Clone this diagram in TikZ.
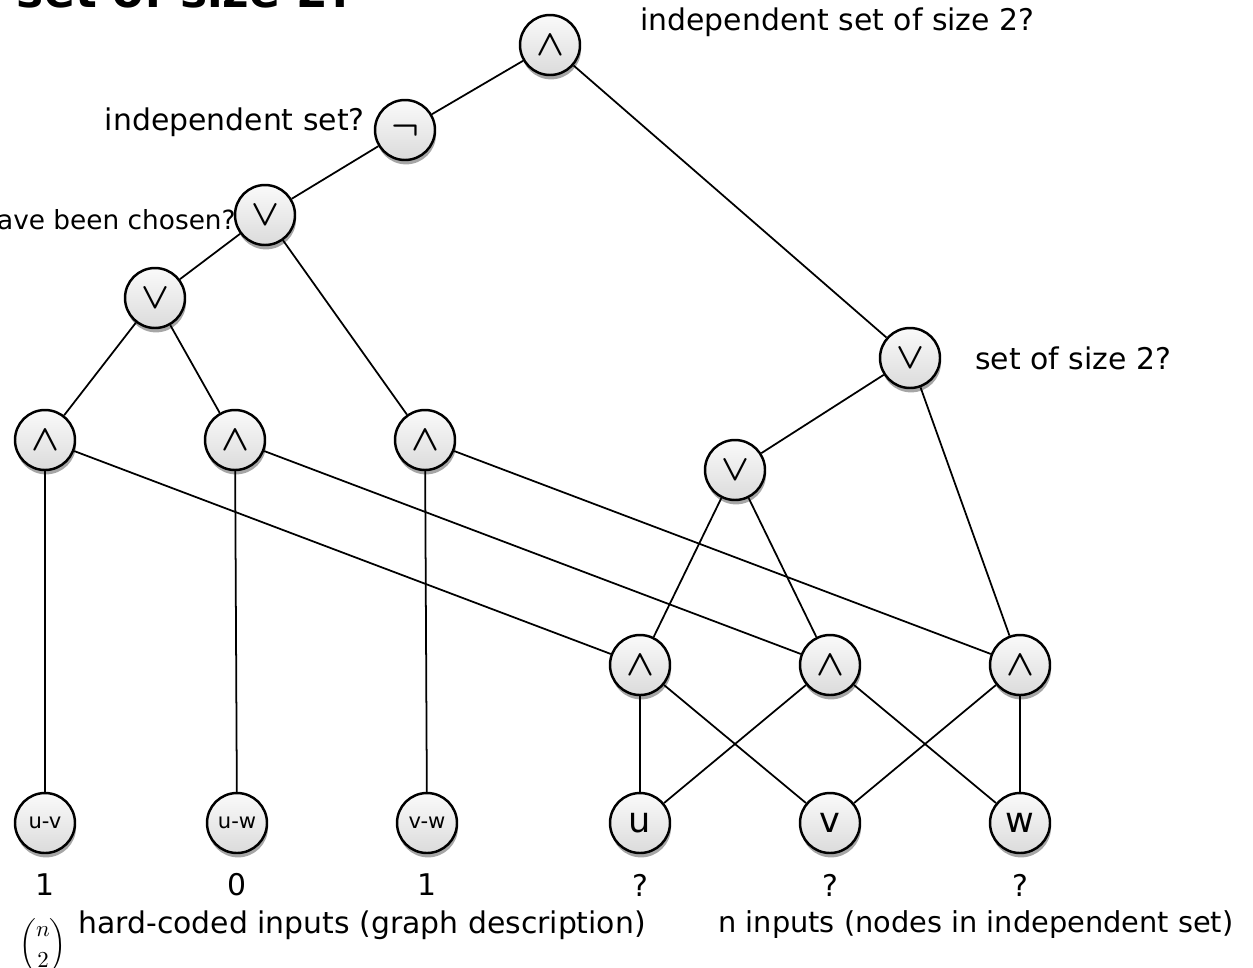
\documentclass[tikz,border=0pt]{standalone}
\usepackage{amsmath}
\usepackage{amssymb}
\usepackage{fontspec}
\setmainfont{DejaVu Sans}
\usepackage{tikz}
\usetikzlibrary{shadows}
\tikzset{
  gate/.style={circle, draw=black, line width=1.4pt, minimum size=1.2cm, inner sep=0pt,
    top color=gray!4, bottom color=gray!28,
    drop shadow={shadow xshift=0.6pt, shadow yshift=-2.5pt, opacity=0.35, fill=black}},
  wire/.style={line width=1pt},
  lbl/.style={font=\fontsize{17}{20}\selectfont, inner sep=0pt}
}
\newcommand{\gand}{\fontsize{22}{22}\selectfont$\boldsymbol{\wedge}$}
\newcommand{\gor}{\fontsize{22}{22}\selectfont$\boldsymbol{\vee}$}

\begin{document}
\begin{tikzpicture}[x=0.02cm, y=-0.02cm]
	\useasboundingbox (0,0) rectangle (1253,967);
	\clip (0,0) rectangle (1253,967);
	% title, cut off at the top
	\node[anchor=base east, inner sep=0pt, font=\fontsize{26}{30}\selectfont\bfseries] (title) at (355,7) {set of size 2?};
	% gates
	\node[gate] (top) at (550,45) {\gand};
	\node[gate] (neg) at (405,130) {\fontsize{22}{22}\selectfont$\boldsymbol{\neg}$};
	\node[gate] (chosen) at (265,215) {\gor};
	\node[gate] (orl) at (155,298) {\gor};
	\node[gate] (and1) at (45,440) {\gand};
	\node[gate] (and2) at (235,440) {\gand};
	\node[gate] (and3) at (425,440) {\gand};
	\node[gate] (size) at (910,358) {\gor};
	\node[gate] (orm) at (735,470) {\gor};
	\node[gate] (anda) at (640,665) {\gand};
	\node[gate] (andb) at (830,665) {\gand};
	\node[gate] (andc) at (1020,665) {\gand};
	% inputs
	\node[gate, font=\fontsize{12}{14}\selectfont] (uv) at (45,823) {u-v};
	\node[gate, font=\fontsize{12}{14}\selectfont] (uw) at (237,823) {u-w};
	\node[gate, font=\fontsize{12}{14}\selectfont] (vw) at (427,823) {v-w};
	\node[gate, font=\fontsize{20}{22}\selectfont] (u) at (640,823) {u};
	\node[gate, font=\fontsize{20}{22}\selectfont] (v) at (830,823) {v};
	\node[gate, font=\fontsize{20}{22}\selectfont] (w) at (1020,823) {w};
	% wires
	\draw[wire] (top) -- (neg);
	\draw[wire] (top) -- (size);
	\draw[wire] (neg) -- (chosen);
	\draw[wire] (chosen) -- (orl);
	\draw[wire] (chosen) -- (and3);
	\draw[wire] (orl) -- (and1);
	\draw[wire] (orl) -- (and2);
	\draw[wire] (and1) -- (uv);
	\draw[wire] (and2) -- (uw);
	\draw[wire] (and3) -- (vw);
	\draw[wire] (and1) -- (anda);
	\draw[wire] (and2) -- (andb);
	\draw[wire] (and3) -- (andc);
	\draw[wire] (size) -- (orm);
	\draw[wire] (size) -- (andc);
	\draw[wire] (orm) -- (anda);
	\draw[wire] (orm) -- (andb);
	\draw[wire] (anda) -- (u);
	\draw[wire] (anda) -- (v);
	\draw[wire] (andb) -- (u);
	\draw[wire] (andb) -- (w);
	\draw[wire] (andc) -- (v);
	\draw[wire] (andc) -- (w);
	% labels
	\node[lbl, anchor=west] (ltop) at (640,22) {independent set of size 2?};
	\node[lbl, anchor=east] (lneg) at (365,122) {independent set?};
	\node[lbl, anchor=east, font=\fontsize{15}{18}\selectfont] (lchosen) at (236,220) {have been chosen?};
	\node[lbl, anchor=west] (lsize) at (975,358) {set of size 2?};
	\node[lbl] (v1) at (45,885) {1};
	\node[lbl] (v2) at (237,885) {0};
	\node[lbl] (v3) at (427,885) {1};
	\node[lbl] (v4) at (640,885) {?};
	\node[lbl] (v5) at (830,885) {?};
	\node[lbl] (v6) at (1020,885) {?};
	\node[inner sep=0pt, scale=1.3] (binom) at (43,946) {$\displaystyle\binom{n}{2}$};
	\node[lbl, anchor=west] (lhard) at (78,925) {hard-coded inputs (graph description)};
	\node[lbl, anchor=west, font=\fontsize{16.4}{20}\selectfont] (lfree) at (718,925) {n inputs (nodes in independent set)};
\end{tikzpicture}
\end{document}
